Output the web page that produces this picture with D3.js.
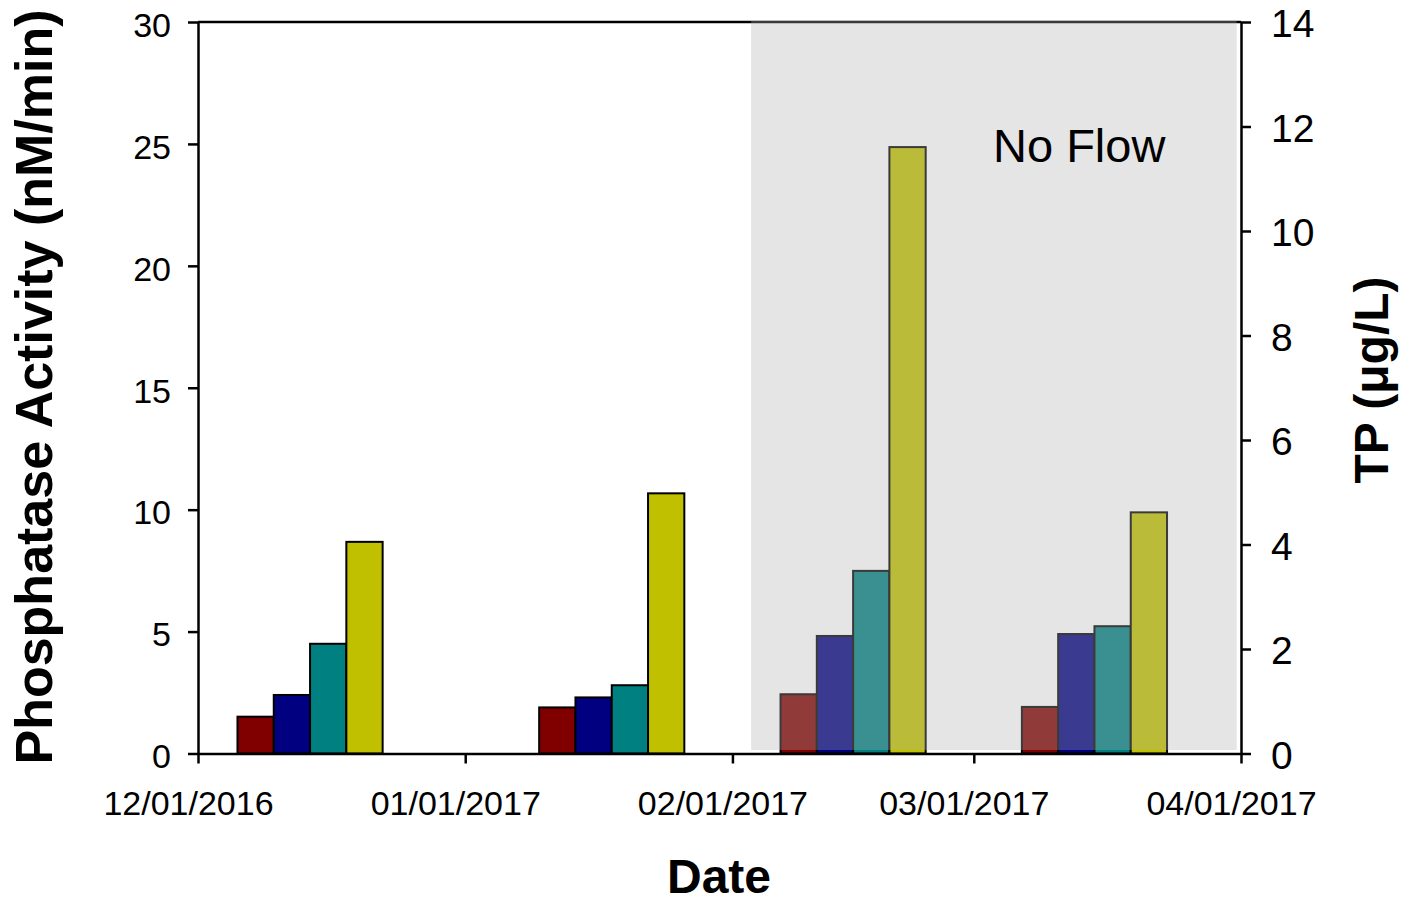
<!DOCTYPE html>
<html>
<head>
<meta charset="utf-8">
<script src="https://cdn.jsdelivr.net/npm/d3@7"></script>
<style>
  html, body { margin: 0; padding: 0; background: #fff; }
  svg { display: block; font-family: "Liberation Sans", Arial, sans-serif; }
</style>
</head>
<body>
<svg id="chart" width="1410" height="901"></svg>
<script>
// ---- data ----
const sampleDates = ["2016-12-14", "2017-01-18", "2017-02-15", "2017-03-15"];
const seriesNames = ["Series 1", "Series 2", "Series 3", "Series 4"];
const series1 = [1.51, 1.89, 2.43, 1.91];
const series2 = [2.40, 2.30, 4.82, 4.90];
const series3 = [4.50, 2.80, 7.49, 5.22];
const series4 = [8.68, 10.67, 24.87, 9.89];
const seriesColors = ["#800000", "#000080", "#008080", "#c0c000"];
const xTickLabels = ["12/01/2016", "01/01/2017", "02/01/2017", "03/01/2017", "04/01/2017"];
const leftTicks = [0, 5, 10, 15, 20, 25, 30];
const rightTicks = [0, 2, 4, 6, 8, 10, 12, 14];
const noFlowPeriod = ["2017-02-03T04:00", "2017-03-31T12:00"];
const noFlowLabel = "No Flow";

// ---- layout ----
const svg = d3.select("#chart");
const X0 = 198, X1 = 1241, Y0 = 753.5, Y1 = 22;
const barWidthDays = 4.21;
const parseDate = d3.utcParse("%Y-%m-%d");
const parseDT = d3.utcParse("%Y-%m-%dT%H:%M");
const parseTick = d3.utcParse("%m/%d/%Y");
const tickDates = xTickLabels.map(parseTick);

const x = d3.scaleUtc().domain([tickDates[0], tickDates[tickDates.length - 1]]).range([X0, X1]);
const yL = d3.scaleLinear().domain([0, 30]).range([Y0, Y1]);
const yR = d3.scaleLinear().domain([0, 14]).range([Y0, Y1]);

svg.append("rect").attr("width", 1410).attr("height", 901).attr("fill", "#fff");

const allSeries = [series1, series2, series3, series4];
const dayMs = 86400000;

// bars
const barData = [];
sampleDates.forEach((ds, gi) => {
  const d = parseDate(ds);
  allSeries.forEach((s, si) => {
    const start = new Date(d.getTime() + (si - 2) * barWidthDays * dayMs);
    const end = new Date(start.getTime() + barWidthDays * dayMs);
    barData.push({ start, end, value: s[gi], color: seriesColors[si], name: seriesNames[si] });
  });
});

svg.append("g").selectAll("rect").data(barData).join("rect")
  .attr("x", d => x(d.start))
  .attr("width", d => x(d.end) - x(d.start))
  .attr("y", d => yL(d.value))
  .attr("height", d => yL(0) - yL(d.value))
  .attr("fill", d => d.color)
  .attr("stroke", "#000")
  .attr("stroke-width", 2);

// frame top line
svg.append("line").attr("x1", X0).attr("x2", X1).attr("y1", Y1).attr("y2", Y1)
  .attr("stroke", "#000").attr("stroke-width", 2.5);

// No flow shading (semi-transparent overlay)
const nfStart = parseDT(noFlowPeriod[0]), nfEnd = parseDT(noFlowPeriod[1]);
svg.append("rect")
  .attr("x", x(nfStart))
  .attr("width", x(nfEnd) - x(nfStart))
  .attr("y", yL(30) - 1.5)
  .attr("height", (yL(0) - 3.5) - (yL(30) - 1.5))
  .attr("fill", "rgb(176,176,176)")
  .attr("fill-opacity", 0.33);

svg.append("text")
  .attr("x", 993).attr("y", 162)
  .attr("font-size", 47)
  .attr("fill", "#000")
  .text(noFlowLabel);

// axes
const gLeft = svg.append("g").attr("transform", `translate(${X0},0)`)
  .call(d3.axisLeft(yL).tickValues(leftTicks).tickSize(10).tickSizeOuter(0).tickPadding(17));
const gRight = svg.append("g").attr("transform", `translate(${X1},0)`)
  .call(d3.axisRight(yR).tickValues(rightTicks).tickSize(10).tickSizeOuter(0).tickPadding(20));
const gBottom = svg.append("g").attr("transform", `translate(0,${Y0})`)
  .call(d3.axisBottom(x).tickValues(tickDates).tickFormat((d, i) => xTickLabels[i])
    .tickSize(10).tickSizeOuter(0).tickPadding(27));

[gLeft, gRight, gBottom].forEach(g => {
  g.select(".domain").attr("stroke", "#000").attr("stroke-width", 2.5);
  g.selectAll(".tick line").attr("stroke", "#000").attr("stroke-width", 2.5);
  g.selectAll(".tick text").attr("fill", "#000")
    .attr("font-family", '"Liberation Sans", Arial, sans-serif');
});
gLeft.selectAll(".tick text").attr("font-size", 34).attr("dy", "0.42em");
gRight.selectAll(".tick text").attr("font-size", 39).attr("dy", "0.38em");
gBottom.selectAll(".tick text").attr("font-size", 34).attr("dx", -10);

// axis titles
svg.append("text")
  .attr("transform", "translate(52,387) rotate(-90)")
  .attr("text-anchor", "middle")
  .attr("font-size", 52).attr("font-weight", "bold").attr("fill", "#000")
  .text("Phosphatase Activity (nM/min)");

svg.append("text")
  .attr("transform", "translate(1388,380) rotate(-90)")
  .attr("text-anchor", "middle")
  .attr("font-size", 48).attr("font-weight", "bold").attr("fill", "#000")
  .text("TP (μg/L)");

svg.append("text")
  .attr("x", 719).attr("y", 893)
  .attr("text-anchor", "middle")
  .attr("font-size", 48).attr("font-weight", "bold").attr("fill", "#000")
  .text("Date");
</script>
</body>
</html>
